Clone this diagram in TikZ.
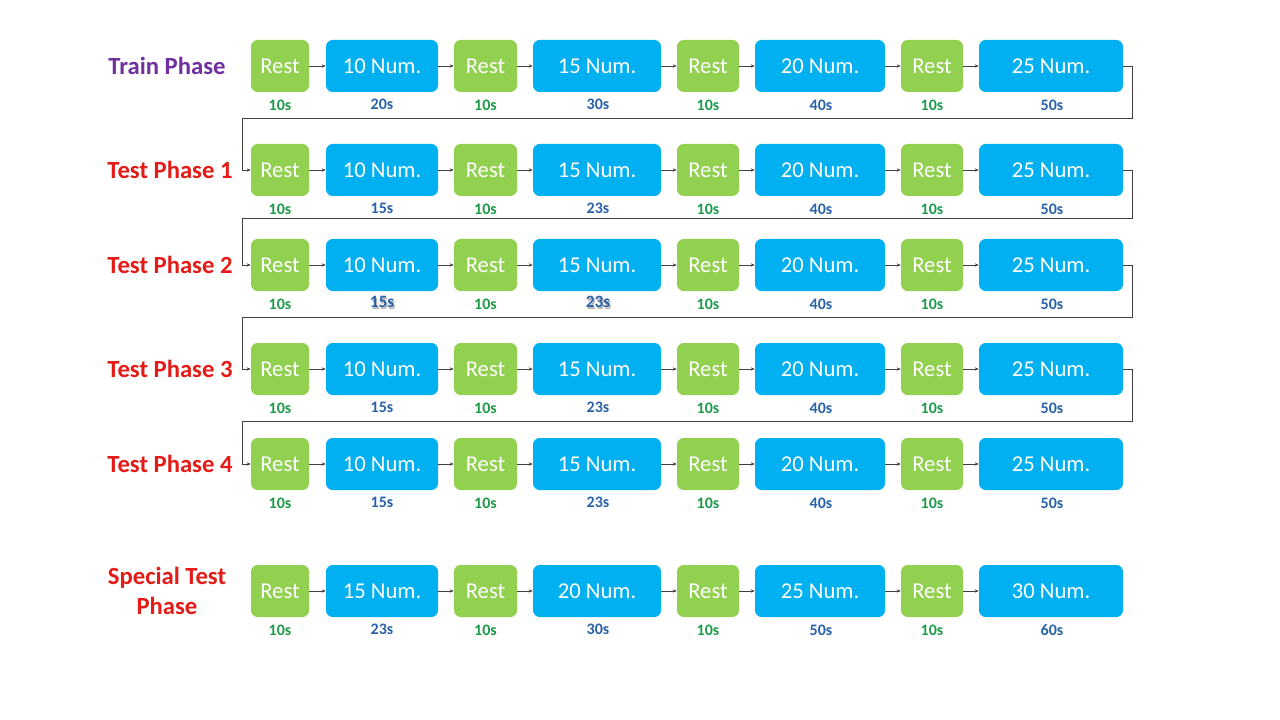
\documentclass[tikz,border=0pt]{standalone}
\usepackage{fontspec}
\setmainfont{Carlito}
\usetikzlibrary{arrows.meta}
\definecolor{restg}{HTML}{92D050}
\definecolor{numb}{HTML}{00B0F0}
\definecolor{txtg}{HTML}{1E9A4A}
\definecolor{txtb}{HTML}{2A62A8}
\definecolor{purp}{HTML}{7030A0}
\definecolor{redt}{HTML}{E41B17}
\definecolor{linec}{HTML}{404040}
\newcommand\shtxt[1]{\makebox[0pt][l]{\raisebox{-1pt}{\hspace{1pt}\textcolor{black!30}{#1}}}#1}
\newcommand\plaintxt[1]{#1}
\tikzset{
  boxbase/.style={rounded corners=5pt, inner sep=0pt, minimum height=52*0.75pt, text=white,
    font=\fontsize{17}{20}\selectfont},
  restbox/.style={boxbase, fill=restg},
  numbox/.style={boxbase, fill=numb},
  lblg/.style={text=txtg, font=\bfseries\fontsize{12}{14}\selectfont, inner sep=0pt},
  lblb/.style={text=txtb, font=\bfseries\fontsize{12}{14}\selectfont, inner sep=0pt},
  lblbs/.style={text=txtb, font=\bfseries\fontsize{13}{15}\selectfont, inner sep=0pt},
  phase/.style={font=\bfseries\fontsize{18.5}{22}\selectfont, inner sep=0pt, align=center},
  conn/.style={draw=linec, line width=0.6pt, -{Stealth[length=3pt,width=2.5pt]}},
}
\begin{document}
\begin{tikzpicture}[x=0.75pt,y=-0.75pt]
\useasboundingbox (0,0) rectangle (1280,720);
\fill[white] (0,0) rectangle (1280,720);
\foreach \id/\yy/\na/\nb/\nc/\nd/\da/\db/\dc/\dd/\st/\wr in {
  ra/66/10/15/20/25/20s/30s/40s/50s/lblb/\plaintxt,
  rb/170/10/15/20/25/15s/23s/40s/50s/lblb/\plaintxt,
  rc/265/10/15/20/25/15s/23s/40s/50s/lblbs/\shtxt,
  rd/369/10/15/20/25/15s/23s/40s/50s/lblb/\plaintxt,
  re/464/10/15/20/25/15s/23s/40s/50s/lblb/\plaintxt,
  rf/591/15/20/25/30/23s/30s/50s/60s/lblb/\plaintxt}{
  \node[restbox, minimum width=58*0.75pt] (\id-r1) at (280,\yy) {Rest};
  \node[numbox, minimum width=112*0.75pt] (\id-b1) at (382,\yy) {\na{} Num.};
  \node[restbox, minimum width=63*0.75pt] (\id-r2) at (485.5,\yy) {Rest};
  \node[numbox, minimum width=128*0.75pt] (\id-b2) at (597,\yy) {\nb{} Num.};
  \node[restbox, minimum width=62*0.75pt] (\id-r3) at (708,\yy) {Rest};
  \node[numbox, minimum width=130*0.75pt] (\id-b3) at (820,\yy) {\nc{} Num.};
  \node[restbox, minimum width=62*0.75pt] (\id-r4) at (932,\yy) {Rest};
  \node[numbox, minimum width=144*0.75pt] (\id-b4) at (1051,\yy) {\nd{} Num.};
  \node[lblg] (\id-l1) at (280,\yy+39) {10s};
  \node[lblg] (\id-l3) at (485.5,\yy+39) {10s};
  \node[lblg] (\id-l5) at (708,\yy+39) {10s};
  \node[lblg] (\id-l7) at (932,\yy+39) {10s};
  \node[lblb] (\id-l8) at (1052,\yy+39) {\dd};
  \node[lblb] (\id-l6) at (821,\yy+39) {\dc};
  \node[\st] (\id-l2) at (382,\yy+38) {\wr{\da}};
  \node[\st] (\id-l4) at (598,\yy+38) {\wr{\db}};
  \draw[conn] (\id-r1) -- (\id-b1);
  \draw[conn] (\id-b1) -- (\id-r2);
  \draw[conn] (\id-r2) -- (\id-b2);
  \draw[conn] (\id-b2) -- (\id-r3);
  \draw[conn] (\id-r3) -- (\id-b3);
  \draw[conn] (\id-b3) -- (\id-r4);
  \draw[conn] (\id-r4) -- (\id-b4);
}
\coordinate (wa) at (242,118);
\coordinate (wb) at (242,218);
\coordinate (wc) at (242,317);
\coordinate (wd) at (242,421);
\draw[conn] (ra-b4.east) -- ++(9,0) |- (wa) |- (rb-r1.west);
\draw[conn] (rb-b4.east) -- ++(9,0) |- (wb) |- (rc-r1.west);
\draw[conn] (rc-b4.east) -- ++(9,0) |- (wc) |- (rd-r1.west);
\draw[conn] (rd-b4.east) -- ++(9,0) |- (wd) |- (re-r1.west);
\node[phase, text=purp] (pa) at (167,66) {Train Phase};
\node[phase, text=redt] (pb) at (170,170) {Test Phase 1};
\node[phase, text=redt] (pc) at (170,265) {Test Phase 2};
\node[phase, text=redt] (pd) at (170,369) {Test Phase 3};
\node[phase, text=redt] (pe) at (170,464) {Test Phase 4};
\node[phase, text=redt] (pf) at (167,591) {Special Test\\Phase};
\end{tikzpicture}
\end{document}
